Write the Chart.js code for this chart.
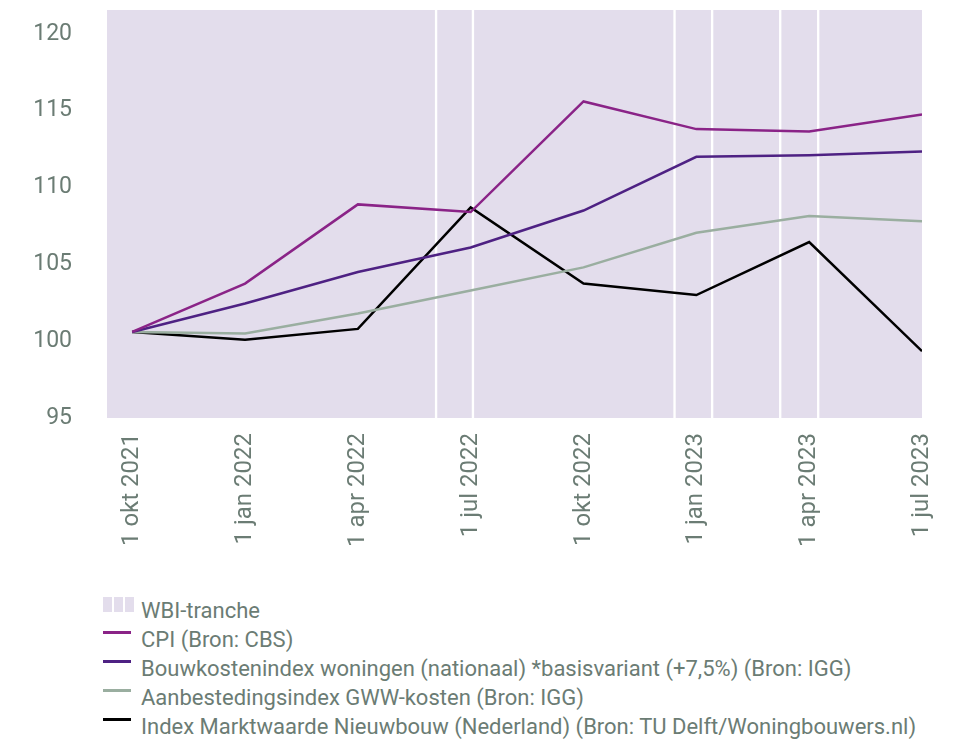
<!DOCTYPE html>
<html>
<head>
<meta charset="utf-8">
<script src="https://cdn.jsdelivr.net/npm/chart.js@4.4.0/dist/chart.umd.min.js"></script>
<style>
  body { margin: 0; background: #fff; font-family: Roboto, sans-serif; }
  #wrap { position: relative; width: 960px; height: 740px; }
  #legend { position: absolute; left: 103px; top: 596px; color: #6b7c74; font-size: 22px; line-height: 29px; }
  .row { display: flex; height: 29px; white-space: nowrap; }
  .icon { position: relative; width: 38px; height: 29px; flex: none; }
  .line { position: absolute; left: 0; top: 6px; width: 28px; height: 3px; }
  .blk { position: absolute; top: 1px; height: 15px; width: 9px; }
</style>
</head>
<body>
<div id="wrap">
  <canvas id="indexChart" width="960" height="560"></canvas>
  <div id="legend"></div>
</div>
<script>
// x positions are months counted from 1 okt 2021
const xLabels = ['1 okt 2021', '1 jan 2022', '1 apr 2022', '1 jul 2022', '1 okt 2022', '1 jan 2023', '1 apr 2023', '1 jul 2023'];
const xMonths = [0, 3, 6, 9, 12, 15, 18, 21];
const yTicks = [95, 100, 105, 110, 115, 120];

const cpi = [100.6, 103.75, 108.9, 108.4, 115.6, 113.8, 113.65, 114.75];
const bouwkosten = [100.6, 102.45, 104.5, 106.1, 108.5, 112.0, 112.1, 112.35];
const aanbesteding = [100.6, 100.5, 101.8, 103.3, 104.8, 107.05, 108.15, 107.8];
const marktwaarde = [100.6, 100.1, 100.8, 108.7, 103.75, 103.0, 106.45, 99.35];

// WBI-tranche periods (months)
const trancheStart = [-0.67, 8.08, 9.06, 14.42, 15.42, 17.23, 18.24];
const trancheEnd = [8.08, 9.06, 14.42, 15.42, 17.23, 18.24, 21];

const textColor = '#6b7c74';
const trancheColor = '#e3ddec';

Chart.defaults.font.family = 'Roboto';
Chart.defaults.font.size = 22;
Chart.defaults.color = textColor;

function toPoints(values) {
    return values.map((v, i) => ({ x: xMonths[i], y: v }));
}

function lineSet(label, values, color) {
    return {
        type: 'line',
        label: label,
        data: toPoints(values),
        borderColor: color,
        backgroundColor: color,
        borderWidth: 2.5,
        pointRadius: 0,
        tension: 0,
        xAxisID: 'x',
        yAxisID: 'y'
    };
}

const datasets = [
    {
        type: 'bar',
        label: 'WBI-tranche',
        indexAxis: 'y',
        xAxisID: 'x',
        yAxisID: 'yb',
        data: trancheStart.map((s, i) => ({ x: [s, trancheEnd[i]], y: 'WBI' })),
        backgroundColor: trancheColor,
        borderColor: '#ffffff',
        borderWidth: c => ({
            left: c.dataIndex > 0 ? 1.5 : 0,
            right: c.dataIndex < trancheStart.length - 1 ? 1.5 : 0,
            top: 0,
            bottom: 0
        }),
        borderSkipped: false,
        barPercentage: 1,
        categoryPercentage: 1,
        order: 10
    },
    lineSet('CPI (Bron: CBS)', cpi, '#8a2387'),
    lineSet('Bouwkostenindex woningen (nationaal) *basisvariant (+7,5%) (Bron: IGG)', bouwkosten, '#4e2183'),
    lineSet('Aanbestedingsindex GWW-kosten (Bron: IGG)', aanbesteding, '#9aaea0'),
    lineSet('Index Marktwaarde Nieuwbouw (Nederland) (Bron: TU Delft/Woningbouwers.nl)', marktwaarde, '#000000')
];

const chart = new Chart(document.getElementById('indexChart'), {
    type: 'line',
    data: { datasets: datasets },
    options: {
        responsive: false,
        animation: false,
        devicePixelRatio: 1,
        layout: { padding: { top: 10, right: 38, left: 0, bottom: 0 } },
        plugins: {
            legend: { display: false },
            tooltip: { enabled: false }
        },
        scales: {
            x: {
                type: 'linear',
                min: -0.67,
                max: 21,
                grid: { display: false, drawTicks: false },
                border: { display: false },
                afterBuildTicks: s => { s.ticks = xMonths.map(v => ({ value: v })); },
                afterFit: s => { s.height = 142; s.paddingLeft = 0; s.paddingRight = 0; },
                ticks: {
                    autoSkip: false,
                    minRotation: 90,
                    maxRotation: 90,
                    padding: 15,
                    font: { size: 24 },
                    callback: v => xLabels[xMonths.indexOf(v)]
                }
            },
            y: {
                type: 'linear',
                position: 'left',
                min: 95,
                max: 121.55,
                grid: { display: false, drawTicks: false },
                border: { display: false },
                afterBuildTicks: s => { s.ticks = yTicks.map(v => ({ value: v })); },
                afterFit: s => { s.width = 107; s.paddingTop = 0; s.paddingBottom = 0; },
                ticks: { padding: 35, font: { size: 23 } }
            },
            yb: {
                type: 'category',
                labels: ['WBI'],
                display: false,
                offset: true
            }
        }
    }
});

// HTML legend, one item per line
const legend = document.getElementById('legend');
chart.data.datasets.forEach(ds => {
    const row = document.createElement('div');
    row.className = 'row';
    const icon = document.createElement('span');
    icon.className = 'icon';
    if (ds.type === 'bar') {
        [0, 11, 22].forEach(left => {
            const b = document.createElement('span');
            b.className = 'blk';
            b.style.left = left + 'px';
            b.style.background = trancheColor;
            icon.appendChild(b);
        });
    } else {
        const l = document.createElement('span');
        l.className = 'line';
        l.style.background = ds.borderColor;
        icon.appendChild(l);
    }
    const text = document.createElement('span');
    text.textContent = ds.label;
    row.appendChild(icon);
    row.appendChild(text);
    legend.appendChild(row);
});
</script>
</body>
</html>
